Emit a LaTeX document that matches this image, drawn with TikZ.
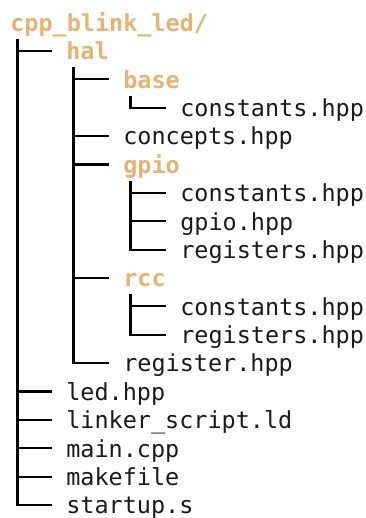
\documentclass[tikz,border=0pt]{standalone}
\usepackage{fontspec}
\usetikzlibrary{calc}
\newfontfamily\treefont{DejaVu Sans Mono}
\definecolor{treeDir}{HTML}{E6B377}
\definecolor{treeFile}{HTML}{1A1A1A}

\begin{document}
\begin{tikzpicture}[
    x=0.75pt, y=-0.75pt,
    entry/.style={
        anchor=west, inner xsep=10.5pt, inner ysep=0pt,
        text height=18.5pt, text depth=5.3pt,
        font=\treefont\fontsize{17.6pt}{21pt}\selectfont, text=treeFile
    },
    dir/.style={entry, font=\treefont\bfseries\fontsize{17.6pt}{21pt}\selectfont, text=treeDir},
    tree/.style={draw=black, line width=1.6pt}
]
\useasboundingbox (0,0) rectangle (365,518);

% Level 0
\node[dir] (root) at (-4,22.6) {cpp\_blink\_led/};

% Level 1
\node[dir]   (hal)      at (52,51.0)  {hal};
\node[entry] (led)      at (52,391.5) {led.hpp};
\node[entry] (linker)   at (52,419.9) {linker\_script.ld};
\node[entry] (main)     at (52,448.2) {main.cpp};
\node[entry] (makefile) at (52,476.6) {makefile};
\node[entry] (startup)  at (52,505.0) {startup.s};

% Level 2 (inside hal)
\node[dir]   (base)     at (109,79.4)  {base};
\node[entry] (concepts) at (109,136.1) {concepts.hpp};
\node[dir]   (gpio)     at (109,164.5) {gpio};
\node[dir]   (rcc)      at (109,278.0) {rcc};
\node[entry] (register) at (109,363.1) {register.hpp};

% Level 3
\node[entry] (baseconst) at (166,107.7) {constants.hpp};
\node[entry] (gpioconst) at (166,192.9) {constants.hpp};
\node[entry] (gpiohpp)   at (166,221.2) {gpio.hpp};
\node[entry] (gpioregs)  at (166,249.6) {registers.hpp};
\node[entry] (rccconst)  at (166,306.4) {constants.hpp};
\node[entry] (rccregs)   at (166,334.7) {registers.hpp};

% Tree bars
\coordinate (rootbar) at ($(root.south west)+(21.5,0)$);
\coordinate (halbar)  at ($(hal.south west)+(21.5,0)$);
\coordinate (basebar) at ($(base.south west)+(21.5,0)$);
\coordinate (gpiobar) at ($(gpio.south west)+(21.5,0)$);
\coordinate (rccbar)  at ($(rcc.south west)+(21.5,0)$);

\draw[tree] (rootbar) |- (startup.west);
\foreach \n in {hal,led,linker,main,makefile}
    \draw[tree] (rootbar |- \n.west) -- (\n.west);

\draw[tree] (halbar) |- (register.west);
\foreach \n in {base,concepts,gpio,rcc}
    \draw[tree] (halbar |- \n.west) -- (\n.west);

\draw[tree] (basebar) |- (baseconst.west);

\draw[tree] (gpiobar) |- (gpioregs.west);
\foreach \n in {gpioconst,gpiohpp}
    \draw[tree] (gpiobar |- \n.west) -- (\n.west);

\draw[tree] (rccbar) |- (rccregs.west);
\draw[tree] (rccbar |- rccconst.west) -- (rccconst.west);

\end{tikzpicture}
\end{document}
